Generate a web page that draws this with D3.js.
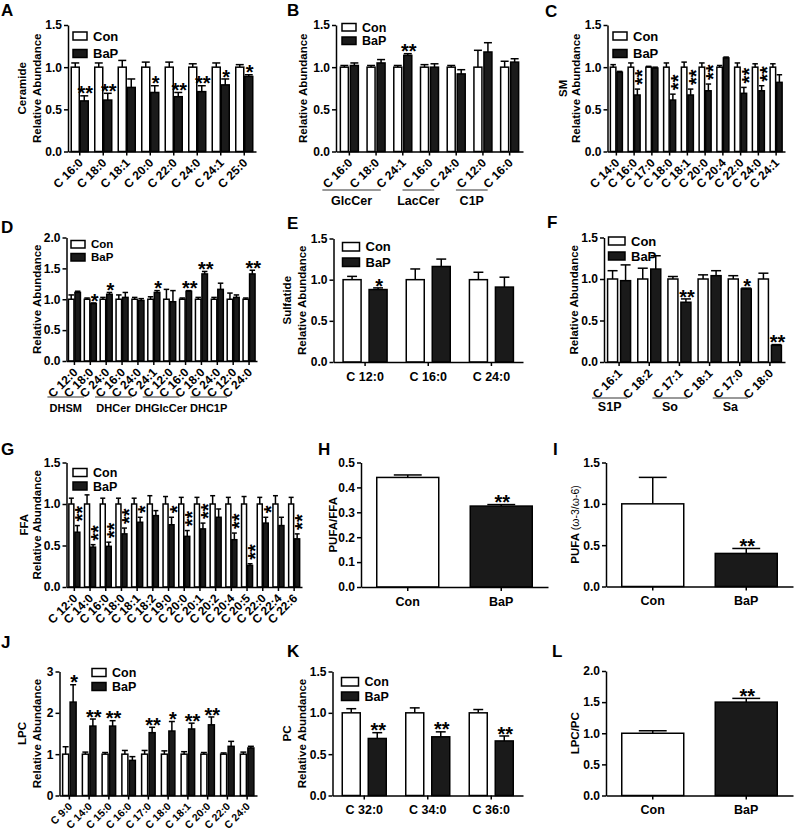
<!DOCTYPE html>
<html><head><meta charset="utf-8">
<script src="https://cdn.jsdelivr.net/npm/d3@7"></script>
<style>
body{margin:0;background:#fff}
svg text{font-family:Arial,"Liberation Sans",Helvetica,sans-serif;font-weight:bold;fill:#000}
</style>
</head><body>
<svg id="chart" width="796" height="833"></svg>
<script>
// ---------------- DATA ----------------
const seriesNames = ["Con", "BaP"];

// A: Ceramide
const A_categories = ["C 16:0","C 18:0","C 18:1","C 20:0","C 22:0","C 24:0","C 24:1","C 25:0"];
const A_con    = [1,1,1,1,1,1,1,1];
const A_conErr = [0.05,0.05,0.08,0.06,0.06,0.04,0.05,0.03];
const A_bap    = [0.60,0.61,0.76,0.70,0.65,0.71,0.79,0.89];
const A_bapErr = [0.06,0.08,0.10,0.08,0.05,0.07,0.07,0.02];
const A_sig    = ["**","**","","*","**","**","*","*"];

// B: GlcCer / LacCer / C1P
const B_categories = ["C 16:0","C 18:0","C 24:1","C 16:0","C 24:0","C 12:0","C 16:0"];
const B_groups = ["GlcCer","LacCer","C1P"];
const B_groupSpans = [[0,2],[3,4],[5,6]];
const B_con    = [1,1,1,1,1,1,1];
const B_conErr = [0.02,0.02,0.02,0.03,0.02,0.20,0.07];
const B_bap    = [1.02,1.05,1.14,1.00,0.92,1.18,1.06];
const B_bapErr = [0.03,0.04,0.02,0.04,0.05,0.11,0.04];
const B_sig    = ["","","**","","","",""];

// C: SM
const C_categories = ["C 14:0","C 16:0","C 17:0","C 18:0","C 18:1","C 20:0","C 20:4","C 22:0","C 24:0","C 24:1"];
const C_con    = [1,1,1,1,1,1,1,1,1,1];
const C_conErr = [0.03,0.05,0.01,0.05,0.06,0.05,0.02,0.05,0.04,0.04];
const C_bap    = [0.94,0.67,0.99,0.61,0.67,0.72,1.11,0.69,0.72,0.82];
const C_bapErr = [0.01,0.07,0.01,0.07,0.07,0.08,0.01,0.07,0.06,0.09];
const C_sig    = ["","**","","**","**","**","","**","**",""];

// D: dihydro species
const D_categories = ["C 12:0","C 18:0","C 24:0","C 16:0","C 24:0","C 24:1","C 12:0","C 16:0","C 18:0","C 24:0","C 12:0","C 24:0"];
const D_groups = ["DHSM","DHCer","DHGlcCer","DHC1P"];
const D_groupSpans = [[0,2],[3,5],[6,8],[9,11]];
const D_con    = [1,1,1,1,1,1,1,1,1,1,1,1];
const D_conErr = [0.07,0.02,0.03,0.07,0.03,0.04,0.16,0.02,0.03,0.03,0.10,0.02];
const D_bap    = [1.11,0.93,1.08,1.03,0.98,1.11,0.96,1.13,1.41,1.16,1.03,1.41];
const D_bapErr = [0.02,0.01,0.03,0.08,0.03,0.03,0.18,0.01,0.04,0.10,0.04,0.06];
const D_sig    = ["","*","*","","","*","","**","**","","","**"];

// E: Sulfatide
const E_categories = ["C 12:0","C 16:0","C 24:0"];
const E_con    = [1,1,1];
const E_conErr = [0.04,0.13,0.09];
const E_bap    = [0.88,1.16,0.91];
const E_bapErr = [0.02,0.09,0.12];
const E_sig    = ["*","",""];

// F: S1P / So / Sa
const F_categories = ["C 16:1","C 18:2","C 17:1","C 18:1","C 17:0","C 18:0"];
const F_groups = ["S1P","So","Sa"];
const F_groupSpans = [[0,1],[2,3],[4,5]];
const F_con    = [1,1,1,1,1,1];
const F_conErr = [0.10,0.13,0.03,0.05,0.04,0.07];
const F_bap    = [0.98,1.12,0.72,1.04,0.88,0.20];
const F_bapErr = [0.19,0.16,0.04,0.06,0.01,0.01];
const F_sig    = ["","","**","","*","**"];

// G: FFA
const G_categories = ["C 12:0","C 14:0","C 16:0","C 18:0","C 18:1","C 18:2","C 19:0","C 20:0","C 20:1","C 20:2","C 20:4","C 20:5","C 22:0","C 22:4","C 22:6"];
const G_con    = [1,1,1,1,1,1,1,1,1,1,1,1,1,1,1];
const G_conErr = [0.07,0.11,0.07,0.07,0.07,0.10,0.09,0.08,0.08,0.10,0.08,0.09,0.08,0.10,0.08];
const G_bap    = [0.66,0.48,0.49,0.64,0.78,0.86,0.75,0.61,0.70,0.84,0.57,0.26,0.77,0.74,0.58];
const G_bapErr = [0.08,0.03,0.05,0.07,0.06,0.06,0.09,0.07,0.07,0.10,0.08,0.02,0.07,0.10,0.06];
const G_sig    = ["**","**","**","**","*","","*","**","**","","**","**","*","","**"];

// H: PUFA/FFA
const H_categories = ["Con","BaP"];
const H_values = [0.44,0.325];
const H_errs   = [0.01,0.006];
const H_sig    = ["","**"];

// I: PUFA (w-3/w-6)
const I_categories = ["Con","BaP"];
const I_values = [1.0,0.40];
const I_errs   = [0.32,0.06];
const I_sig    = ["","**"];

// J: LPC
const J_categories = ["C 9:0","C 14:0","C 15:0","C 16:0","C 17:0","C 18:0","C 18:1","C 20:0","C 22:0","C 24:0"];
const J_con    = [1,1,1,1,1,1,1,1,1,1];
const J_conErr = [0.18,0.05,0.04,0.09,0.09,0.08,0.06,0.04,0.03,0.05];
const J_bap    = [2.26,1.68,1.68,0.85,1.52,1.56,1.61,1.71,1.19,1.15];
const J_bapErr = [0.42,0.17,0.13,0.09,0.13,0.23,0.14,0.19,0.12,0.04];
const J_sig    = ["*","**","**","","**","*","**","**","",""];

// K: PC
const K_categories = ["C 32:0","C 34:0","C 36:0"];
const K_con    = [1,1,1];
const K_conErr = [0.05,0.06,0.04];
const K_bap    = [0.69,0.71,0.66];
const K_bapErr = [0.07,0.06,0.06];
const K_sig    = ["**","**","**"];

// L: LPC/PC
const L_categories = ["Con","BaP"];
const L_values = [1.0,1.5];
const L_errs   = [0.04,0.06];
const L_sig    = ["","**"];

// ---------------- DRAWING ----------------
const svg = d3.select("#chart");
const BLACK = "#000", DARK = "#1a1a1a";
const STAR_FS = 20;

function styleAxis(sel, fs){
  sel.selectAll("path,line").attr("stroke", BLACK).attr("stroke-width", 1.5);
  sel.selectAll("text").attr("font-size", fs).attr("font-weight","bold")
     .attr("font-family", 'Arial,"Liberation Sans",sans-serif').attr("fill", BLACK);
  sel.attr("font-family", null).attr("font-size", null);
}

function drawPanel(c){
  const g = svg.append("g");
  const y = d3.scaleLinear().domain([0, c.yMax]).range([c.y0, c.yTop]);
  const x = d3.scaleBand().domain(d3.range(c.cats.length)).range([c.x0, c.x1]);
  const cx = i => x(i) + x.bandwidth()/2;

  // panel letter
  g.append("text").attr("x", c.letter[1]).attr("y", c.letter[2])
    .attr("font-size", 17).text(c.letter[0]);

  // y axis
  const fmt = c.yFmt === "d" ? d3.format("d") : d3.format(".1f");
  const ya = g.append("g").attr("transform", `translate(${c.x0},0)`)
    .call(d3.axisLeft(y).tickValues(c.yTicks).tickFormat(fmt).tickSize(4).tickSizeOuter(0).tickPadding(2));
  styleAxis(ya, 12);

  // bars
  const capW = w => w >= 40 ? w*0.45 : (w >= 15 ? w*0.55 : w);
  const bars = [];
  if (c.single){
    c.values.forEach((v,i)=>bars.push({x: cx(i)-c.barW/2, w:c.barW, v, e:c.errs[i], fill: i===0?"#fff":DARK, sig:c.sig[i]}));
  } else {
    c.cats.forEach((d,i)=>{
      const xc = cx(i);
      bars.push({x: xc - c.gap/2 - c.barW, w:c.barW, v:c.con[i], e:c.conErr[i], fill:"#fff", sig:""});
      bars.push({x: xc + c.gap/2, w:c.barW, v:c.bap[i], e:c.bapErr[i], fill:DARK, sig:c.sig[i]});
    });
  }
  const bg = g.append("g");
  bars.forEach(b=>{
    const mid = b.x + b.w/2;
    const top = y(b.v + b.e);
    bg.append("line").attr("x1",mid).attr("x2",mid).attr("y1",y(b.v)).attr("y2",top)
      .attr("stroke",BLACK).attr("stroke-width",1.5);
    const cw = capW(b.w);
    bg.append("line").attr("x1",mid-cw/2).attr("x2",mid+cw/2).attr("y1",top).attr("y2",top)
      .attr("stroke",BLACK).attr("stroke-width",1.5);
    bg.append("rect").attr("x",b.x).attr("y",y(b.v)).attr("width",b.w).attr("height",c.y0 - y(b.v))
      .attr("fill",b.fill).attr("stroke",BLACK).attr("stroke-width",1.5);
    if (b.sig){
      if (c.rotStars){
        bg.append("text").attr("font-size",STAR_FS).attr("text-anchor","start")
          .attr("transform",`translate(${mid + 0.55*STAR_FS + 1},${top - 4}) rotate(-90)`)
          .text(b.sig);
      } else {
        bg.append("text").attr("font-size",STAR_FS).attr("text-anchor","middle")
          .attr("x", mid + 1).attr("y", top - 3 + 0.38*STAR_FS).text(b.sig);
      }
    }
  });

  // x axis
  const xa = g.append("g").attr("transform", `translate(0,${c.y0})`)
    .call(d3.axisBottom(x).tickFormat(i=>c.cats[i]).tickSize(4).tickSizeOuter(0).tickPadding(3));
  styleAxis(xa, c.labelFs || (c.rotLabels ? 12 : 12.5));
  if (c.rotLabels){
    xa.selectAll(".tick text").attr("text-anchor","end").attr("x",0).attr("y",0).attr("dy","0.35em")
      .attr("transform","translate(1,9) rotate(-45)");
  } else {
    xa.selectAll(".tick text").attr("dy","0.95em");
  }

  // group labels
  if (c.groups){
    c.groups.forEach((name,k)=>{
      const [a,b] = c.spans[k];
      const x1 = cx(a) - 27, x2 = cx(b) - 22;
      g.append("line").attr("x1",x1).attr("x2",x2).attr("y1",c.groupLineY).attr("y2",c.groupLineY)
        .attr("stroke","#777").attr("stroke-width",1.5);
      g.append("text").attr("x",(x1+x2)/2).attr("y",c.groupTextY).attr("text-anchor","middle")
        .attr("font-size",c.groupFs || 12.5).text(name);
    });
  }

  // legend
  if (c.legend){
    const L = c.legend;
    seriesNames.forEach((n,k)=>{
      const yy = L.y + k*L.dy;
      g.append("rect").attr("x",L.x).attr("y",yy).attr("width",L.w).attr("height",L.h)
        .attr("fill", k===0?"#fff":DARK).attr("stroke",BLACK).attr("stroke-width",1.5);
      g.append("text").attr("x",L.x+L.w+6).attr("y",yy+L.h/2).attr("dy","0.36em")
        .attr("font-size",L.fs || 13).text(n);
    });
  }

  // y titles
  const ym = (c.yTop + c.y0)/2;
  c.titles.forEach(t=>{
    const tx = g.append("text").attr("transform",`translate(${t.x},${ym}) rotate(-90)`)
      .attr("text-anchor","middle").attr("dy","0.36em").attr("font-size",11.5);
    if (t.parts){
      t.parts.forEach(p=>tx.append("tspan").attr("font-weight",p.w).attr("font-size",p.fs).text(p.t));
    } else tx.text(t.t);
  });
}

const RA = "Relative Abundance";
const ticks15 = [0,0.5,1,1.5], ticks20 = [0,0.5,1,1.5,2];

drawPanel({letter:["A",1,16], x0:68, x1:256, yTop:25, y0:151.5, yMax:1.5, yTicks:ticks15,
  cats:A_categories, con:A_con, conErr:A_conErr, bap:A_bap, bapErr:A_bapErr, sig:A_sig,
  barW:8, gap:1, rotLabels:true, legend:{x:73,y:32,dy:17.5,w:14,h:8},
  titles:[{t:"Ceramide",x:22},{t:RA,x:37}]});

drawPanel({letter:["B",287,16], x0:336, x1:523, yTop:25, y0:151.5, yMax:1.5, yTicks:ticks15,
  cats:B_categories, con:B_con, conErr:B_conErr, bap:B_bap, bapErr:B_bapErr, sig:B_sig,
  barW:8, gap:2, rotLabels:true, legend:{x:342,y:23.5,dy:13.5,w:14,h:7.5,fs:12.5},
  groups:B_groups, spans:B_groupSpans, groupLineY:190, groupTextY:205,
  titles:[{t:RA,x:303}]});

drawPanel({letter:["C",545,17], x0:607.5, x1:785, yTop:25, y0:151.5, yMax:1.5, yTicks:ticks15,
  cats:C_categories, con:C_con, conErr:C_conErr, bap:C_bap, bapErr:C_bapErr, sig:C_sig,
  barW:5.5, gap:1, rotLabels:true, rotStars:true, legend:{x:613,y:32,dy:17.5,w:14,h:8},
  titles:[{t:"SM",x:563},{t:RA,x:576}]});

drawPanel({letter:["D",1,233], x0:66.5, x1:257, yTop:237.5, y0:361, yMax:2, yTicks:ticks20,
  cats:D_categories, con:D_con, conErr:D_conErr, bap:D_bap, bapErr:D_bapErr, sig:D_sig,
  barW:5.5, gap:1, rotLabels:true, legend:{x:71,y:240.5,dy:13,w:14,h:7.5,fs:11.5},
  groups:D_groups, spans:D_groupSpans, groupLineY:397, groupTextY:412, groupFs:11,
  titles:[{t:RA,x:37}]});

drawPanel({letter:["E",287,229], x0:333.5, x1:523, yTop:238.5, y0:362, yMax:1.5, yTicks:ticks15,
  cats:E_categories, con:E_con, conErr:E_conErr, bap:E_bap, bapErr:E_bapErr, sig:E_sig,
  barW:18, gap:8, rotLabels:false, legend:{x:342.5,y:242.5,dy:15.5,w:17,h:8.5},
  titles:[{t:"Sulfatide",x:287},{t:RA,x:302}]});

drawPanel({letter:["F",547,228], x0:604, x1:785, yTop:237.5, y0:362, yMax:1.5, yTicks:ticks15,
  cats:F_categories, con:F_con, conErr:F_conErr, bap:F_bap, bapErr:F_bapErr, sig:F_sig,
  barW:10, gap:3, rotLabels:true, legend:{x:608.5,y:237,dy:15,w:16.5,h:8},
  groups:F_groups, spans:F_groupSpans, groupLineY:398, groupTextY:411,
  titles:[{t:RA,x:574}]});

drawPanel({letter:["G",1,455], x0:66.5, x1:302, yTop:462.5, y0:587, yMax:1.5, yTicks:ticks15,
  cats:G_categories, con:G_con, conErr:G_conErr, bap:G_bap, bapErr:G_bapErr, sig:G_sig,
  barW:5, gap:1, rotLabels:true, rotStars:true, legend:{x:73,y:468.5,dy:13.5,w:14,h:8,fs:12.5},
  titles:[{t:"FFA",x:24},{t:RA,x:37}]});

drawPanel({letter:["H",318,455], x0:361, x1:548, yTop:462.5, y0:587, yMax:0.5, yTicks:[0,0.1,0.2,0.3,0.4,0.5],
  single:true, cats:H_categories, values:H_values, errs:H_errs, sig:H_sig, barW:62, rotLabels:false,
  titles:[{t:"PUFA/FFA",x:333}]});

drawPanel({letter:["I",553,455], x0:606, x1:793, yTop:462.5, y0:586.5, yMax:1.5, yTicks:ticks15,
  single:true, cats:I_categories, values:I_values, errs:I_errs, sig:I_sig, barW:62, rotLabels:false,
  titles:[{x:575, parts:[{t:"PUFA ",w:"bold",fs:11.5},{t:"(ω-3/ω-6)",w:"normal",fs:10.5}]}]});

drawPanel({letter:["J",1,648], x0:59.5, x1:257, yTop:671.5, y0:795.5, yMax:3, yTicks:[0,1,2,3], yFmt:"d",
  cats:J_categories, con:J_con, conErr:J_conErr, bap:J_bap, bapErr:J_bapErr, sig:J_sig,
  barW:6, gap:1.5, rotLabels:true, labelFs:10.5, legend:{x:92,y:668.5,dy:14,w:14,h:8,fs:12.5},
  titles:[{t:"LPC",x:22},{t:RA,x:37}]});

drawPanel({letter:["K",287,657], x0:332.5, x1:523, yTop:671.5, y0:795.5, yMax:1.5, yTicks:ticks15,
  cats:K_categories, con:K_con, conErr:K_conErr, bap:K_bap, bapErr:K_bapErr, sig:K_sig,
  barW:18, gap:8, rotLabels:false, legend:{x:341.5,y:677.5,dy:14.5,w:17,h:8.5,fs:12.5},
  titles:[{t:"PC",x:287},{t:RA,x:302}]});

drawPanel({letter:["L",552,657], x0:606, x1:793, yTop:671, y0:795.5, yMax:2, yTicks:ticks20,
  single:true, cats:L_categories, values:L_values, errs:L_errs, sig:L_sig, barW:62, rotLabels:false,
  titles:[{t:"LPC/PC",x:575}]});
</script>
</body></html>
